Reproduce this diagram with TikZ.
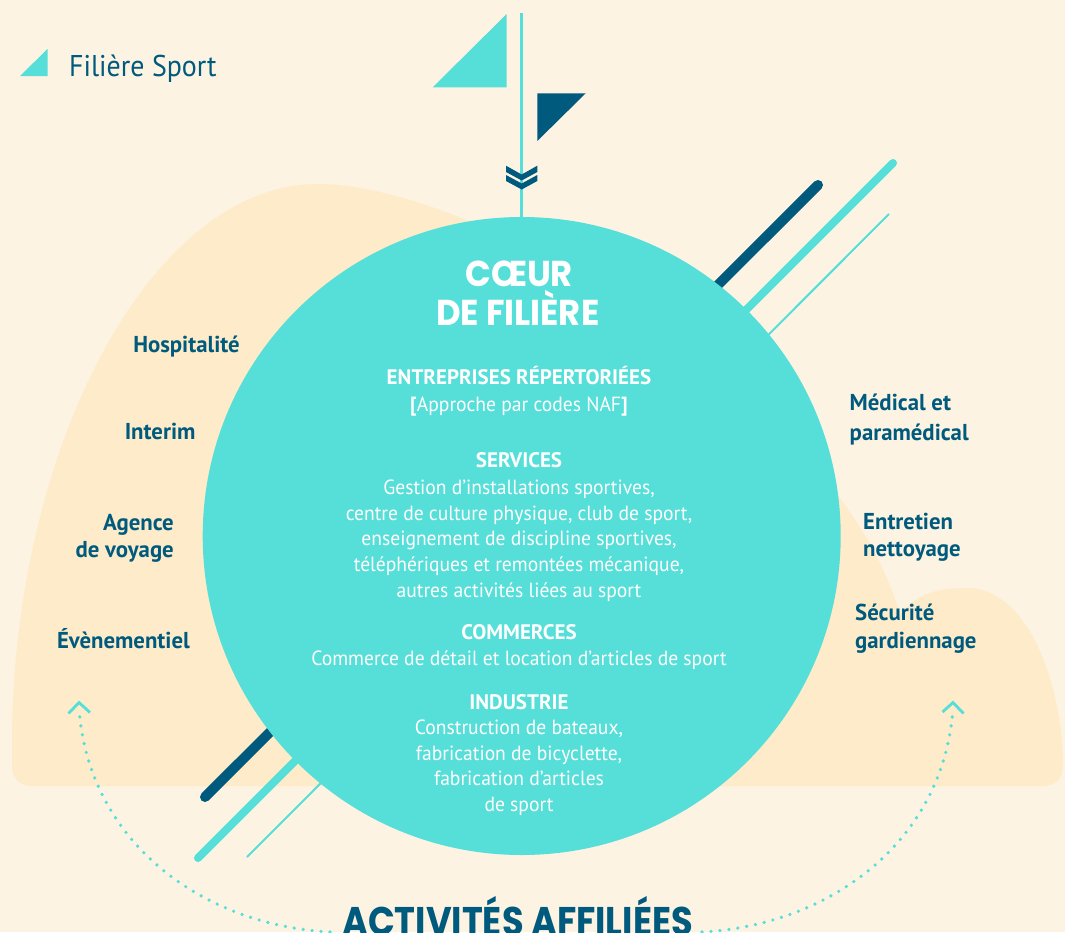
\documentclass[tikz,border=0pt]{standalone}
\usepackage{fontspec}
\setmainfont{PT Sans}[FakeStretch=0.955]
\newfontfamily\labfont{PT Sans}[FakeStretch=0.99]
\newfontfamily\headfont{PT Sans}[FakeStretch=1.0]
\newfontfamily\legfont{PT Sans}[FakeStretch=0.93]
\newfontfamily\dispfont{Poppins}[FakeStretch=0.94]
\newfontfamily\dispfontb{Poppins}[FakeStretch=0.88]
\definecolor{bgc}{RGB}{253,243,226}
\definecolor{blobc}{RGB}{254,235,201}
\definecolor{tealc}{RGB}{85,223,216}
\definecolor{dk}{RGB}{0,90,125}
\begin{document}
\begin{tikzpicture}[x=1pt,y=-1pt,
  lab/.style={font=\fontsize{23}{28}\selectfont\labfont\bfseries, text=dk, inner sep=0pt},
  body/.style={font=\fontsize{20.5}{25}\selectfont, text=white, inner sep=0pt, anchor=base},
  head/.style={font=\fontsize{21}{25}\selectfont\headfont\bfseries, text=white, inner sep=0pt, anchor=base},
  disp/.style={font=\fontsize{36}{40}\selectfont\dispfont\bfseries, inner sep=0pt, anchor=base},
  dots/.style={draw=tealc, line width=3.6pt, line cap=round, dash pattern=on 0pt off 9pt},
  tip/.style={draw=tealc, line width=2.8pt}
]
\path[use as bounding box] (0,0) rectangle (1065,932);
\clip (0,0) rectangle (1065,932);
\fill[bgc] (0,0) rectangle (1065,932);
% blob
\fill[blobc] (12,745) .. controls (12,450) and (150,184) .. (318,184)
  .. controls (480,184) and (840,400) .. (900,615)
  .. controls (915,595) and (935,588) .. (967,588)
  .. controls (1030,588) and (1063,690) .. (1063,765)
  .. controls (1063,778) and (1056,786) .. (1043,786) -- (32,786)
  .. controls (19,786) and (12,778) .. (12,765) -- cycle;
% diagonal lines
\draw[dk, line width=10pt, line cap=round] (205,797) -- (818,185);
\draw[tealc, line width=8pt, line cap=round] (198,858) -- (893,163);
\draw[tealc, line width=2pt] (247,857) -- (889,214);
% core circle
\node[circle, fill=tealc, minimum size=638pt, inner sep=0pt] (core) at (521.7,536) {};
% flag
\coordinate (top) at (521.7,13);
\draw[tealc, line width=2.7pt] (top) -- (core.north);
\fill[tealc] (432.7,87.3) -- (506.7,14) -- (506.7,87.3) -- cycle;
\fill[dk] (537.3,93.3) -- (585.7,93.3) -- (537.3,141) -- cycle;
\fill[dk] (506,165.7) -- (521.7,174.5) -- (537.3,165.7) -- (537.3,172) -- (521.7,180.5) -- (506,172) -- cycle;
\fill[dk] (506,175) -- (521.7,183.5) -- (537.3,175) -- (537.3,181) -- (521.7,189.5) -- (506,181) -- cycle;
% legend
\fill[tealc] (20,76) -- (47.5,49) -- (47.5,76) -- cycle;
\node[anchor=base west, inner sep=0pt, text=dk, font=\fontsize{30}{34}\selectfont\legfont] (legend) at (69,76.7) {Filière Sport};
% titles
\node[disp, text=white] (t1) at (519.2,286.7) {CŒUR};
\node[disp, text=white] (t2) at (517.7,325) {DE FILIÈRE};
\node[disp, text=dk, font=\fontsize{40}{44}\selectfont\dispfontb\bfseries] (aff) at (517.5,935) {ACTIVITÉS AFFILIÉES};
% circle content
\node[head] (h1) at (519,384) {ENTREPRISES RÉPERTORIÉES};
\node[body] (b1) at (519,411.7) {{\headfont\bfseries[}Approche par codes NAF{\headfont\bfseries]}};
\node[head] (h2) at (519,467.3) {SERVICES};
\node[body] (s1) at (519,494) {Gestion d’installations sportives,};
\node[body] (s2) at (519,520) {centre de culture physique, club de sport,};
\node[body] (s3) at (519,545.5) {enseignement de discipline sportives,};
\node[body] (s4) at (519,571.7) {téléphériques et remontées mécanique,};
\node[body] (s5) at (519,597.3) {autres activités liées au sport};
\node[head] (h3) at (519,639.3) {COMMERCES};
\node[body] (c1) at (519,665) {Commerce de détail et location d’articles de sport};
\node[head] (h4) at (519,709) {INDUSTRIE};
\node[body] (i1) at (519,734) {Construction de bateaux,};
\node[body] (i2) at (519,760) {fabrication de bicyclette,};
\node[body] (i3) at (519,785.7) {fabrication d’articles};
\node[body] (i4) at (519,811) {de sport};
% left labels
\node[lab, anchor=base east] (hosp) at (240,352.7) {Hospitalité};
\node[lab, anchor=base east] (inter) at (195.7,439.3) {Interim};
\node[lab, anchor=base east] (agence) at (174,530) {Agence};
\node[lab, anchor=base east] (voyage) at (174,557) {de voyage};
\node[lab, anchor=base east] (even) at (190,648) {Évènementiel};
% right labels
\node[lab, anchor=base west] (med1) at (849.5,410.7) {Médical et};
\node[lab, anchor=base west] (med2) at (849.5,440) {paramédical};
\node[lab, anchor=base west] (ent1) at (863,529.3) {Entretien};
\node[lab, anchor=base west] (ent2) at (863,556.7) {nettoyage};
\node[lab, anchor=base west] (sec1) at (855,620.7) {Sécurité};
\node[lab, anchor=base west] (sec2) at (855,648.3) {gardiennage};
% dotted arcs
\coordinate (lstart) at (330,932);
\coordinate (ltip) at (79,708);
\coordinate (rstart) at (702,932);
\coordinate (rtip) at (953,708);
\draw[dots] (lstart) .. controls (200,925) and (88,840) .. (ltip);
\draw[dots] (rstart) .. controls (832,925) and (944,840) .. (rtip);
\draw[tip] (68.5,713.5) -- (79,702.5) -- (90,712.5);
\draw[tip] (942.5,712) -- (953,702.5) -- (963.5,713.5);
\end{tikzpicture}
\end{document}
